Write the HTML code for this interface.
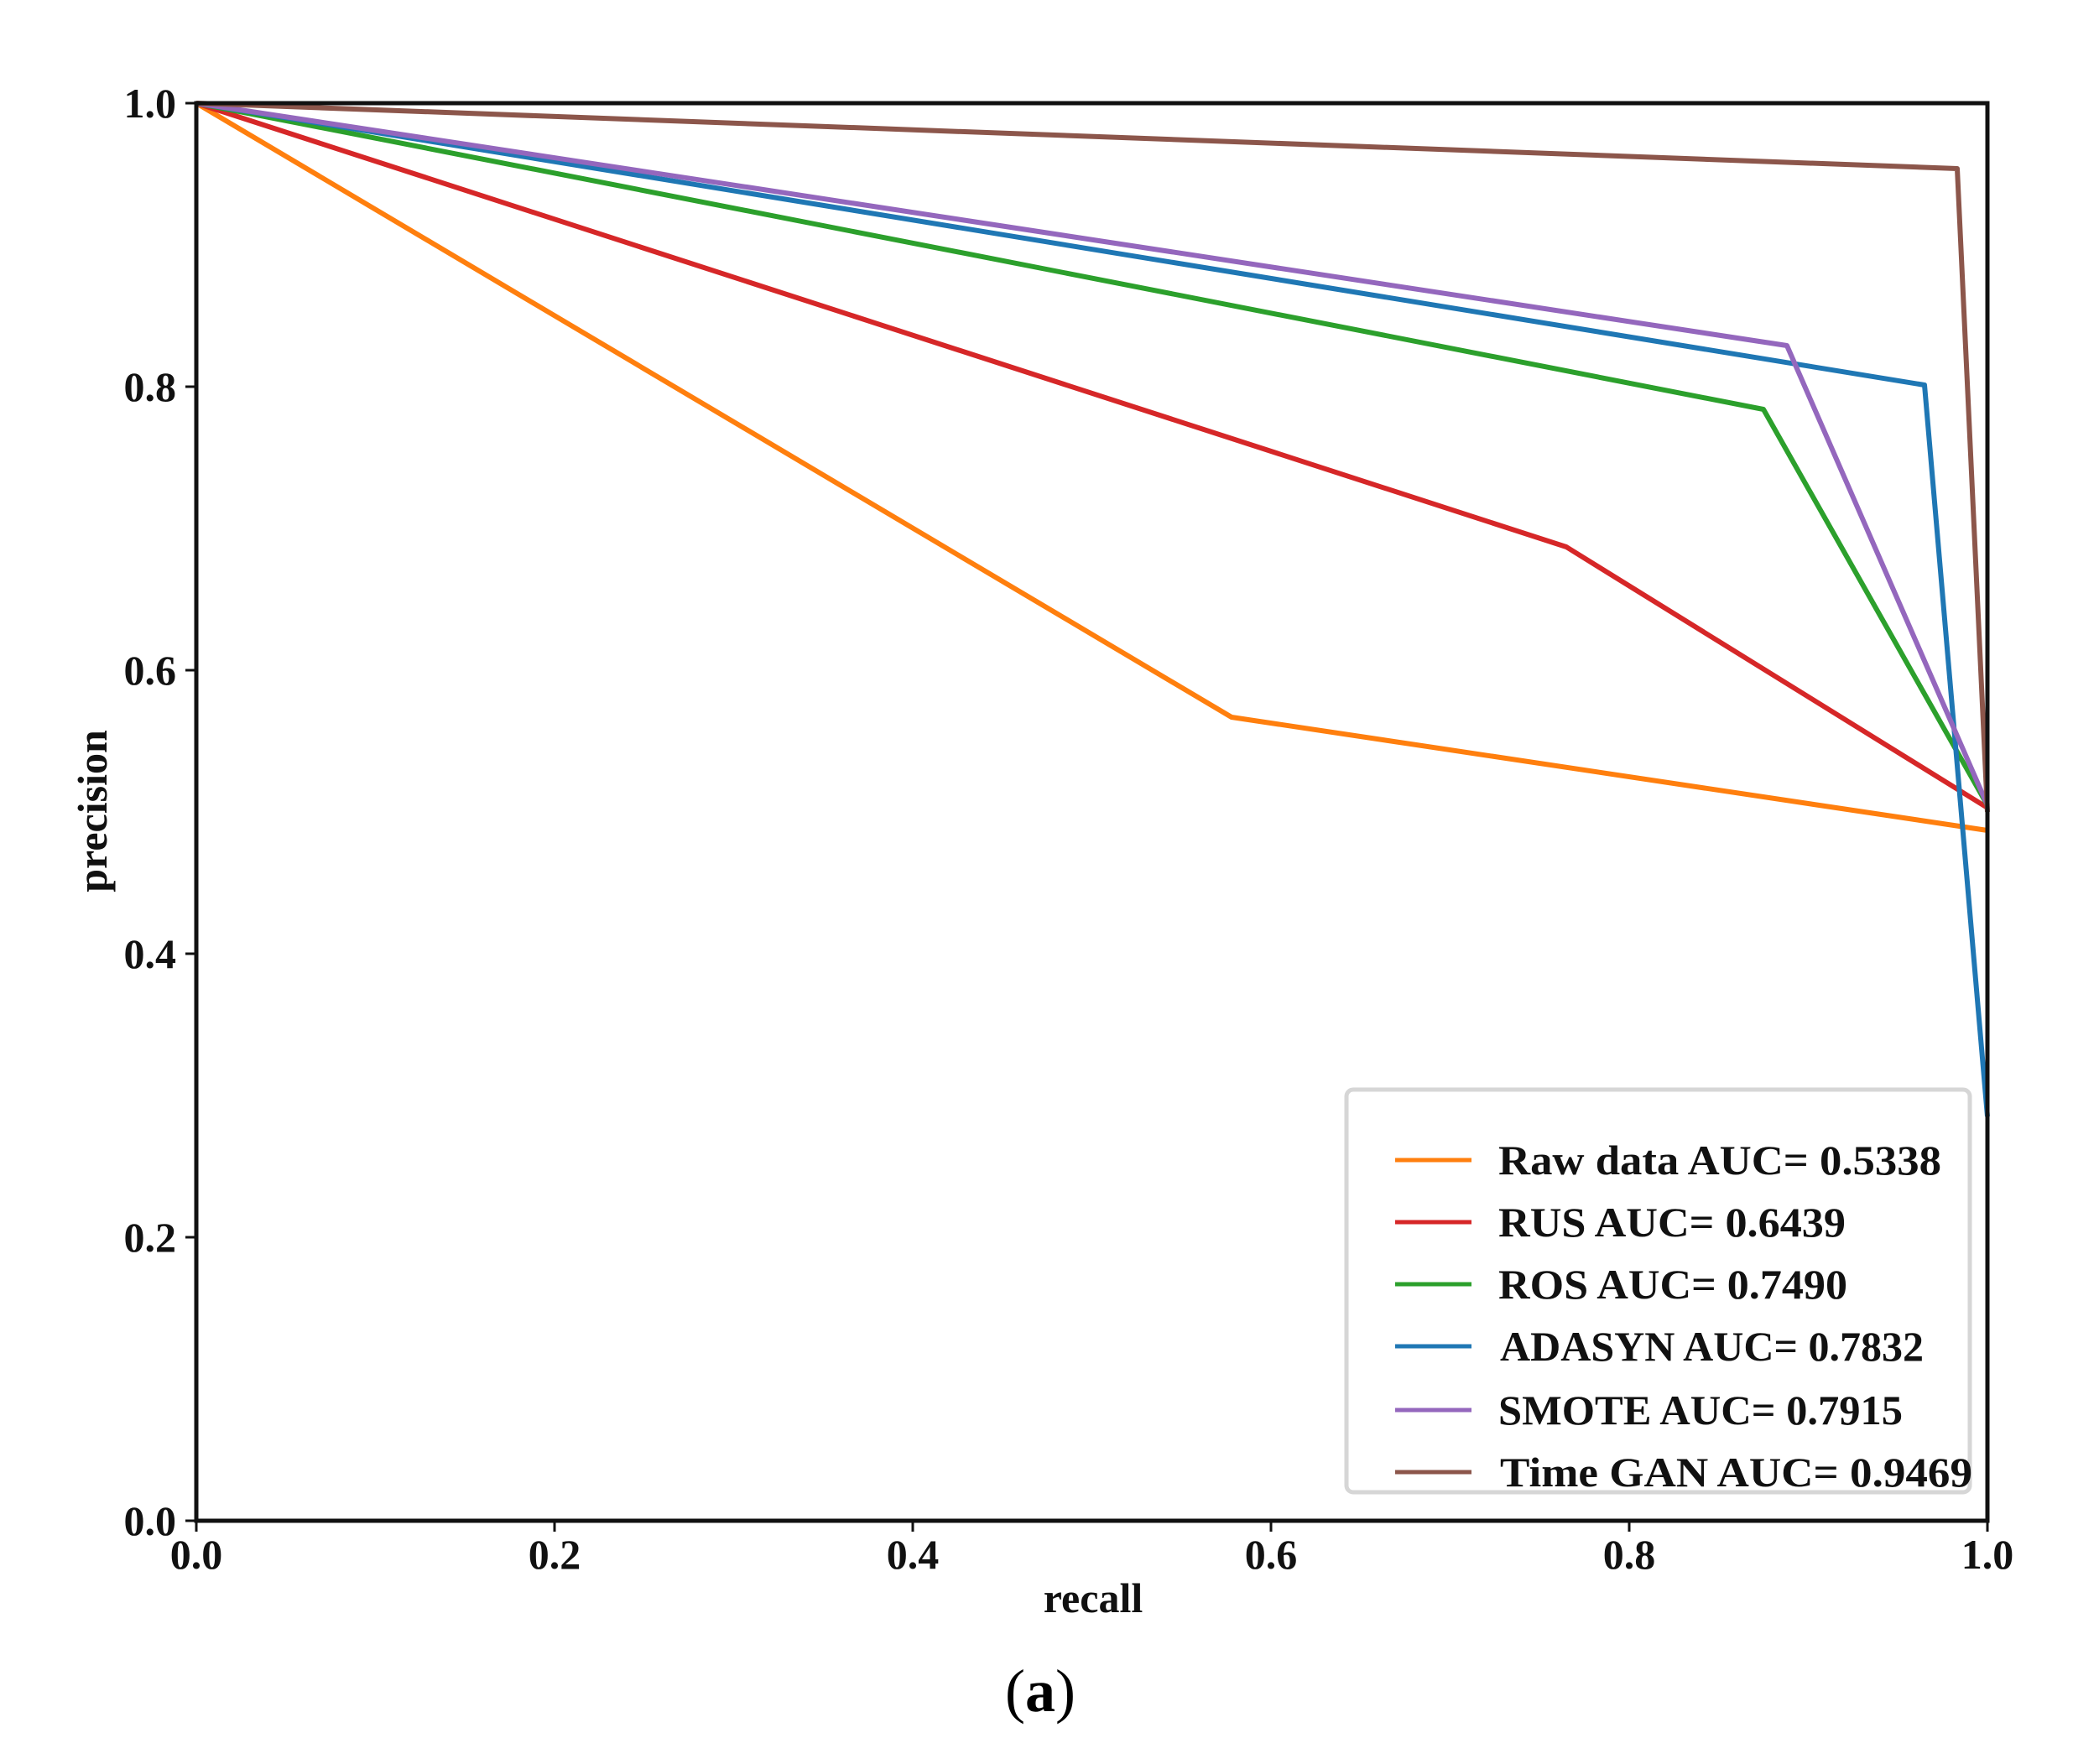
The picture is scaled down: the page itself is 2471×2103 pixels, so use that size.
<!DOCTYPE html>
<html><head><meta charset="utf-8"><style>body{margin:0;background:#fff}svg{display:block}</style></head><body>
<svg width="2471" height="2103" viewBox="0 0 2471 2103" xmlns="http://www.w3.org/2000/svg" font-family="Liberation Serif, serif">
<rect width="2471" height="2103" fill="#fff"/>
<g fill="none" stroke-width="6" stroke-linejoin="round">
<polyline stroke="#ff7f0e" points="234,123 1468,855 2369,990"/>
<polyline stroke="#d62728" points="234,123 1867,652 2369,963"/>
<polyline stroke="#2ca02c" points="234,123 2102,488 2369,960"/>
<polyline stroke="#1f77b4" points="234,123 2294,459 2369,1331"/>
<polyline stroke="#9467bd" points="234,123 2130,412 2369,960"/>
<polyline stroke="#8c564b" points="234,123 2333,201 2369,968"/>
</g>
<rect x="1605" y="1299" width="743" height="480" rx="8" fill="#fff" stroke="#d6d6d6" stroke-width="5"/>
<g stroke-width="5">
<line x1="1663" x2="1754" y1="1383" y2="1383" stroke="#ff7f0e"/>
<line x1="1663" x2="1754" y1="1457" y2="1457" stroke="#d62728"/>
<line x1="1663" x2="1754" y1="1531" y2="1531" stroke="#2ca02c"/>
<line x1="1663" x2="1754" y1="1605" y2="1605" stroke="#1f77b4"/>
<line x1="1663" x2="1754" y1="1681" y2="1681" stroke="#9467bd"/>
<line x1="1663" x2="1754" y1="1755" y2="1755" stroke="#8c564b"/>
</g>
<g font-size="50" font-weight="bold" fill="#111">
<text x="1786" y="1400" textLength="528" lengthAdjust="spacingAndGlyphs">Raw data AUC= 0.5338</text>
<text x="1786" y="1474" textLength="414" lengthAdjust="spacingAndGlyphs">RUS AUC= 0.6439</text>
<text x="1786" y="1548" textLength="416" lengthAdjust="spacingAndGlyphs">ROS AUC= 0.7490</text>
<text x="1788" y="1622" textLength="505" lengthAdjust="spacingAndGlyphs">ADASYN AUC= 0.7832</text>
<text x="1786" y="1698" textLength="482" lengthAdjust="spacingAndGlyphs">SMOTE AUC= 0.7915</text>
<text x="1788" y="1772" textLength="563" lengthAdjust="spacingAndGlyphs">Time GAN AUC= 0.9469</text>
</g>
<rect x="234" y="123" width="2135" height="1690" fill="none" stroke="#111" stroke-width="5"/>
<g stroke="#111" stroke-width="3">
<line x1="234" x2="234" y1="1813" y2="1826"/><line x1="661" x2="661" y1="1813" y2="1826"/><line x1="1088" x2="1088" y1="1813" y2="1826"/><line x1="1515" x2="1515" y1="1813" y2="1826"/><line x1="1942" x2="1942" y1="1813" y2="1826"/><line x1="2369" x2="2369" y1="1813" y2="1826"/>
<line x1="221" x2="234" y1="1813" y2="1813"/><line x1="221" x2="234" y1="1475" y2="1475"/><line x1="221" x2="234" y1="1137" y2="1137"/><line x1="221" x2="234" y1="799" y2="799"/><line x1="221" x2="234" y1="461" y2="461"/><line x1="221" x2="234" y1="123" y2="123"/>
</g>
<g font-size="50" font-weight="bold" fill="#111" text-anchor="middle">
<text x="234" y="1870">0.0</text><text x="661" y="1870">0.2</text><text x="1088" y="1870">0.4</text><text x="1515" y="1870">0.6</text><text x="1942" y="1870">0.8</text><text x="2369" y="1870">1.0</text>
</g>
<g font-size="50" font-weight="bold" fill="#111" text-anchor="end">
<text x="210" y="1830">0.0</text><text x="210" y="1492">0.2</text><text x="210" y="1154">0.4</text><text x="210" y="816">0.6</text><text x="210" y="478">0.8</text><text x="210" y="140">1.0</text>
</g>
<text x="1303" y="1922" font-size="50" font-weight="bold" text-anchor="middle" fill="#111">recall</text>
<text transform="translate(127,967) rotate(-90)" font-size="50" font-weight="bold" text-anchor="middle" fill="#111">precision</text>
<text x="1240" y="2040" font-size="72" text-anchor="middle" fill="#000">(<tspan font-weight="bold">a</tspan>)</text>
</svg>
</body></html>
